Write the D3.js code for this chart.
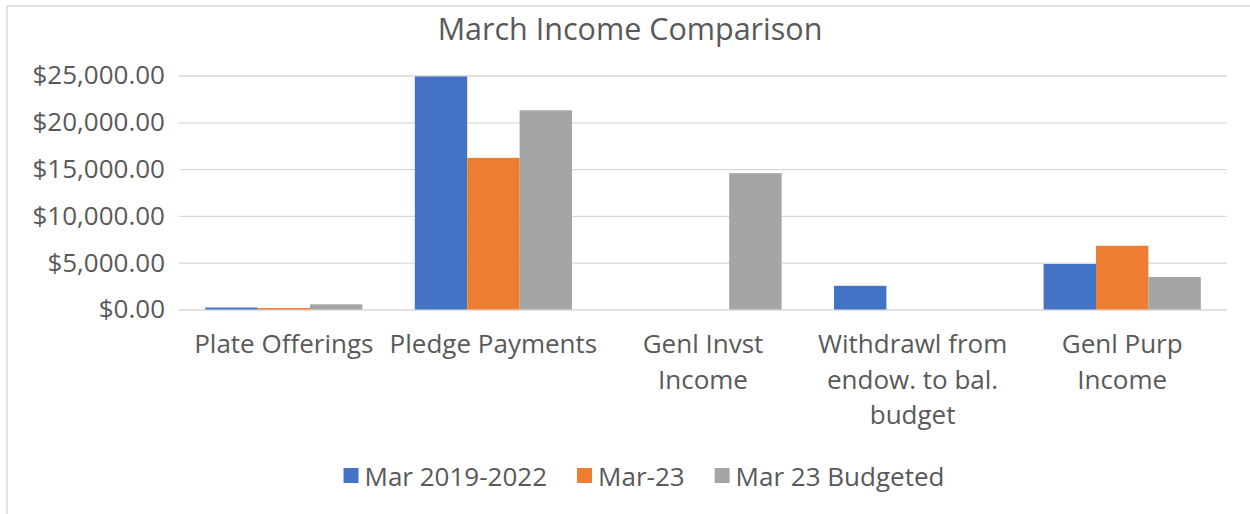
<!DOCTYPE html>
<html>
<head>
<meta charset="utf-8">
<script src="https://cdn.jsdelivr.net/npm/d3@7/dist/d3.min.js"></script>
<style>
  html, body { margin: 0; padding: 0; background: #fff; }
  svg { display: block; }
  text { font-family: "Open Sans", "Noto Sans", sans-serif; fill: #595959; }
</style>
</head>
<body>
<svg id="chart" width="1250" height="514"></svg>
<script>
const title = "March Income Comparison";
const categories = ["Plate Offerings", "Pledge Payments", "Genl Invst Income", "Withdrawl from endow. to bal. budget", "Genl Purp Income"];
const categoryLines = [["Plate Offerings"], ["Pledge Payments"], ["Genl Invst", "Income"], ["Withdrawl from", "endow. to bal.", "budget"], ["Genl Purp", "Income"]];
const seriesNames = ["Mar 2019-2022", "Mar-23", "Mar 23 Budgeted"];
const seriesColors = ["#4472C4", "#ED7D31", "#A5A5A5"];
const mar2019_2022 = [210, 24900, 0, 2530, 4860];
const mar23 = [160, 16200, 0, 0, 6810];
const mar23Budgeted = [550, 21280, 14570, 0, 3480];
const yTicks = [0, 5000, 10000, 15000, 20000, 25000];

const seriesValues = [mar2019_2022, mar23, mar23Budgeted];
const svg = d3.select("#chart");
const FS = "26px";

// border
svg.append("rect").attr("x", 7).attr("y", 6).attr("width", 1400).attr("height", 700)
  .attr("fill", "none").attr("stroke", "#d9d9d9").attr("stroke-width", 1.5);

const plotLeft = 179, plotRight = 1227, plotTop = 75.5, plotBottom = 309.5;
const y = d3.scaleLinear().domain([0, 25000]).range([plotBottom, plotTop]);
const x0 = d3.scaleBand().domain(categories).range([plotLeft, plotRight]).padding(0);
const bw = x0.bandwidth();
const x1 = d3.scaleBand().domain(seriesNames).range([bw * 0.125, bw * 0.875]).padding(0);

// title
svg.append("text").attr("x", 630).attr("y", 28).attr("text-anchor", "middle")
  .attr("dominant-baseline", "central").style("font-size", "30.5px").text(title);

// gridlines + y labels
const fmt = d => "$" + d3.format(",.2f")(d);
const yAxis = d3.axisLeft(y).tickValues(yTicks).tickSize(-(plotRight - plotLeft)).tickFormat(fmt).tickPadding(14);
const gy = svg.append("g").attr("transform", `translate(${plotLeft},0)`).call(yAxis);
gy.select(".domain").remove();
gy.selectAll(".tick line").attr("stroke", "#d9d9d9").attr("stroke-width", 1.3);
gy.selectAll(".tick text").style("font-size", FS).attr("fill", "#595959")
  .style("font-family", '"Open Sans", sans-serif');

// bars
const groups = svg.append("g").selectAll("g").data(categories).join("g")
  .attr("transform", d => `translate(${x0(d)},0)`);
groups.selectAll("rect").data((c, i) => seriesNames.map((s, j) => ({ s, j, v: seriesValues[j][i] })))
  .join("rect")
  .attr("x", d => x1(d.s)).attr("width", x1.bandwidth())
  .attr("y", d => y(d.v)).attr("height", d => y(0) - y(d.v))
  .attr("fill", d => seriesColors[d.j]);

// category labels
const xl = svg.append("g");
categories.forEach((c, i) => {
  const cx = x0(c) + bw / 2;
  const t = xl.append("text").attr("text-anchor", "middle").style("font-size", FS);
  categoryLines[i].forEach((line, k) => {
    t.append("tspan").attr("x", cx).attr("y", 343 + k * 35.5).attr("dominant-baseline", "central").text(line);
  });
});

// legend
const lg = svg.append("g");
let xpos = 0;
seriesNames.forEach((s, j) => {
  const g = lg.append("g");
  g.append("rect").attr("x", xpos).attr("y", 468).attr("width", 15).attr("height", 15).attr("fill", seriesColors[j]);
  const t = g.append("text").attr("x", xpos + 21).attr("y", 476).attr("dominant-baseline", "central")
    .style("font-size", FS).text(s);
  const w = t.node().getComputedTextLength();
  xpos += 21 + w + 30;
});
const totalW = xpos - 30;
lg.attr("transform", `translate(${644 - totalW / 2},0)`);
</script>
</body>
</html>
